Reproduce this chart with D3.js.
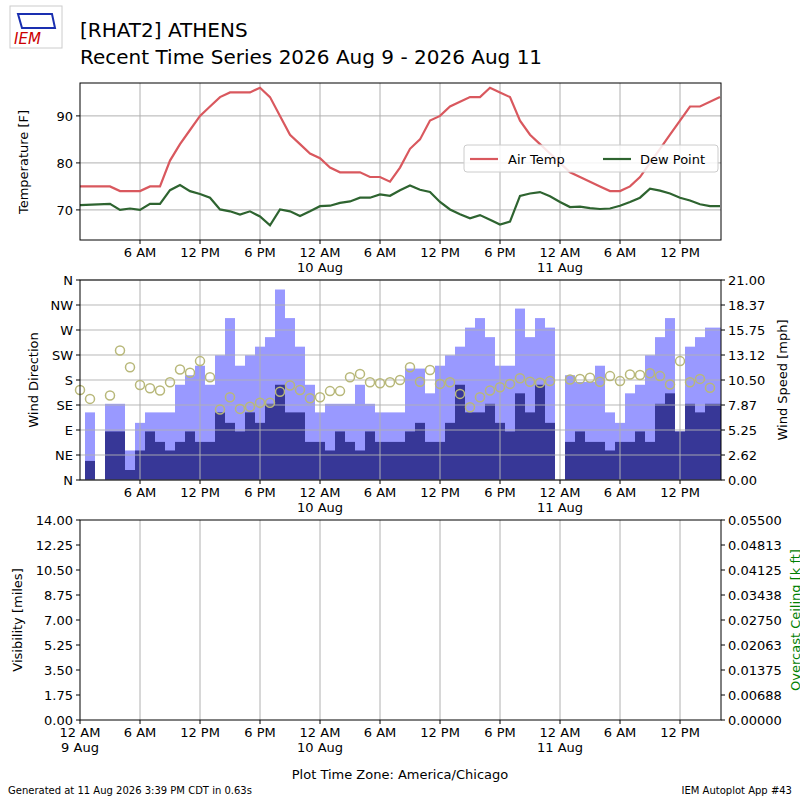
<!DOCTYPE html>
<html><head><meta charset="utf-8">
<script src="https://cdn.jsdelivr.net/npm/d3@7"></script>
<style>body{margin:0;background:#fff}text{font-family:"DejaVu Sans",sans-serif}</style>
</head><body><div id="chart"></div>
<script>
// hours since 12 AM 9 Aug
const tempHours = [0,3,4,5,6,7,8,9,10,11,12,13,14,15,16,17,18,19,20,21,22,23,24,25,26,28,29,30,31,32,33,34,35,36,37,38,39,40,41,42,43,44,45,46,47,48,49,50,51,52,53,54,55,56,57,58,59,60,61,62,64];
const airTemp = [75,75,74,74,74,75,75,80.5,84,87,90,92,94,95,95,95,96,94,90,86,84,82,81,79,78,78,77,77,76,79,83,85,89,90,92,93,94,94,96,95,94,89,86,84,82,80,78,77,76,75,74,74,75,77,80,83,86,89,92,92,94];
const dewHours = [0,3,4,5,6,7,8,9,10,11,12,13,14,15,16,17,18,19,20,21,22,23,24,25,26,27,28,29,30,31,32,33,34,35,36,37,38,39,40,41,42,43,44,45,46,47,48,49,50,51,52,53,54,55,56,57,58,59,60,61,62,63,64];
const dewPoint = [71,71.3,70,70.3,70,71.3,71.3,74.2,75.3,74,73.4,72.6,70.1,69.7,69,69.7,68.6,66.7,70.1,69.7,68.7,69.7,70.8,70.9,71.5,71.8,72.6,72.6,73.3,73,74.2,75.2,74.3,73.8,71.7,70.1,69.1,68.2,68.9,67.9,66.9,67.5,73,73.5,73.8,72.9,71.7,70.6,70.7,70.4,70.2,70.3,70.9,71.7,72.6,74.5,74.1,73.5,72.6,72,71.2,70.8,70.8];
// wind, hourly from hour 1
const windGust = [7.1,null,8,8,3.1,6,7.1,7.1,7.1,10,11,12,10,13.1,17,12,13.1,14,15,20,17,14,10,7.1,8,8,8,10,8,7.1,7.1,7.1,
  11.7,11.7,9.1,12,13.1,14,16,17,15,12,12,18,15,17,16,null,11,10.3,10.3,12,7.1,6,9.1,10,13.1,15,17,5.1,14,15,16,16];
const windSpeed = [2,null,5.1,5.1,1.05,3.1,5.1,4,3.1,4,5.1,4,4,7.1,6,5.1,7.1,6,8,10,7.1,7.1,4,4,3.1,5.1,4,3.1,5.1,4,4,4,
  5.1,6,4,4,6,10,7.1,7.1,8,6,5.1,9.1,7.1,10,6,null,4,5.1,4,4,3.1,4,4,5.1,4,8,9.1,5.1,8,7.1,8,8];
// direction, hourly from hour 0
const windDir = [162,146,null,152,233,203,171,165,161,176,199,193,214,185,127,149,128,132,139,139,159,170,162,147,149,160,160,185,191,176,174,176,180,
  203,177,198,173,176,155,131,149,161,167,173,183,177,175,178,null,181,182,184,177,187,178,190,189,192,187,172,214,176,182,166];
const dirLabels = ["N","NE","E","SE","S","SW","W","NW","N"];
const speedLabels = ["0.00","2.62","5.25","7.87","10.50","13.12","15.75","18.37","21.00"];
const visLabels = ["0.00","1.75","3.50","5.25","7.00","8.75","10.50","12.25","14.00"];
const ceilLabels = ["0.00000","0.00688","0.01375","0.02063","0.02750","0.03438","0.04125","0.04813","0.05500"];
const tickHours = [0,6,12,18,24,30,36,42,48,54,60];
const tickLabels = ["12 AM\n9 Aug","6 AM","12 PM","6 PM","12 AM\n10 Aug","6 AM","12 PM","6 PM","12 AM\n11 Aug","6 AM","12 PM"];

const W = 800, H = 800, L = 80, R = 721;
const svg = d3.select("#chart").append("svg").attr("width", W).attr("height", H);
const x = d3.scaleLinear().domain([0, 64.1]).range([L, R]);
const grid = "#b0b0b0";

// header
const logo = svg.append("g");
logo.append("rect").attr("x",10).attr("y",6).attr("width",52).attr("height",42).attr("fill","#fff").attr("stroke","#ccc");
logo.append("text").attr("x",14).attr("y",44).attr("font-size",15).attr("font-style","italic").attr("fill","#c00").text("IEM");
logo.append("path").attr("d","M18 14 L52 14 L55 28 L22 28 Z").attr("fill","none").attr("stroke","#1a2fb0").attr("stroke-width",2);
svg.append("text").attr("x",80).attr("y",37).attr("font-size",20).text("[RHAT2] ATHENS");
svg.append("text").attr("x",80).attr("y",64).attr("font-size",20).text("Recent Time Series 2026 Aug 9 - 2026 Aug 11");

function xAxis(g, y0, from) {
  tickHours.forEach((h, i) => {
    if (h < from) return;
    g.append("line").attr("x1", x(h)).attr("x2", x(h)).attr("y1", y0).attr("y2", y0 + 4).attr("stroke", "#000");
    const lines = tickLabels[i].split("\n");
    lines.forEach((s, j) => g.append("text").attr("x", x(h)).attr("y", y0 + 17 + j * 15)
      .attr("text-anchor", "middle").attr("font-size", 13).text(s));
  });
}
function vgrid(g, y1, y2) {
  tickHours.slice(1).forEach(h => g.append("line").attr("x1", x(h)).attr("x2", x(h))
    .attr("y1", y1).attr("y2", y2).attr("stroke", grid));
}
function frame(g, y1, y2) {
  g.append("rect").attr("x", L).attr("y", y1).attr("width", R - L).attr("height", y2 - y1)
    .attr("fill", "none").attr("stroke", "#000");
}

// ---- temperature panel
const p1 = svg.append("g");
const yT = d3.scaleLinear().domain([63.6, 97]).range([240, 83]);
vgrid(p1, 83, 240);
[70, 80, 90].forEach(v => {
  p1.append("line").attr("x1", L).attr("x2", R).attr("y1", yT(v)).attr("y2", yT(v)).attr("stroke", grid);
  p1.append("line").attr("x1", L - 4).attr("x2", L).attr("y1", yT(v)).attr("y2", yT(v)).attr("stroke", "#000");
  p1.append("text").attr("x", L - 7).attr("y", yT(v) + 5).attr("text-anchor", "end").attr("font-size", 13).text(v);
});
const line = d3.line().x(d => x(d[0])).y(d => yT(d[1]));
p1.append("path").attr("d", line(d3.zip(tempHours, airTemp))).attr("fill", "none").attr("stroke", "#d9585e").attr("stroke-width", 2.2);
p1.append("path").attr("d", line(d3.zip(dewHours, dewPoint))).attr("fill", "none").attr("stroke", "#2e6430").attr("stroke-width", 2.2);
frame(p1, 83, 240);
xAxis(p1, 240, 6);
p1.append("text").attr("transform", "translate(28,162) rotate(-90)").attr("text-anchor", "middle").attr("font-size", 13).text("Temperature [F]");
const lg = p1.append("g");
lg.append("rect").attr("x", 464).attr("y", 145).attr("width", 254).attr("height", 27).attr("rx", 3).attr("fill", "#fff").attr("fill-opacity", 0.85).attr("stroke", "#ccc");
lg.append("line").attr("x1", 470).attr("x2", 498).attr("y1", 159).attr("y2", 159).attr("stroke", "#d9585e").attr("stroke-width", 2.2);
lg.append("text").attr("x", 508).attr("y", 164).attr("font-size", 13).text("Air Temp");
lg.append("line").attr("x1", 603).attr("x2", 631).attr("y1", 159).attr("y2", 159).attr("stroke", "#2e6430").attr("stroke-width", 2.2);
lg.append("text").attr("x", 640).attr("y", 164).attr("font-size", 13).text("Dew Point");

// ---- wind panel
const p2 = svg.append("g");
const yD = d3.scaleLinear().domain([0, 360]).range([480, 280]);
const yS = d3.scaleLinear().domain([0, 21]).range([480, 280]);
const bw = x(1) - x(0);
svg.append("clipPath").attr("id", "c2").append("rect").attr("x", L).attr("y", 280).attr("width", R - L).attr("height", 200);
const bars = p2.append("g").attr("clip-path", "url(#c2)");
windGust.forEach((v, i) => {
  if (v == null) return;
  const h = i + 1;
  bars.append("rect").attr("x", x(h) - bw / 2).attr("width", bw).attr("y", yS(v)).attr("height", 480 - yS(v)).attr("fill", "#9999ff");
  bars.append("rect").attr("x", x(h) - bw / 2).attr("width", bw).attr("y", yS(windSpeed[i])).attr("height", 480 - yS(windSpeed[i])).attr("fill", "#373797");
});
vgrid(p2, 280, 480);
d3.range(0, 361, 45).forEach((v, i) => {
  p2.append("line").attr("x1", L).attr("x2", R).attr("y1", yD(v)).attr("y2", yD(v)).attr("stroke", grid).attr("stroke-opacity", 0.9);
  p2.append("line").attr("x1", L - 4).attr("x2", L).attr("y1", yD(v)).attr("y2", yD(v)).attr("stroke", "#000");
  p2.append("text").attr("x", L - 7).attr("y", yD(v) + 5).attr("text-anchor", "end").attr("font-size", 13).text(dirLabels[i]);
});
speedLabels.forEach((s, i) => {
  const v = 21 * i / 8;
  p2.append("line").attr("x1", R).attr("x2", R + 4).attr("y1", yS(v)).attr("y2", yS(v)).attr("stroke", "#000");
  p2.append("text").attr("x", R + 7).attr("y", yS(v) + 5).attr("font-size", 13).text(s);
});
windDir.forEach((v, h) => {
  if (v == null) return;
  p2.append("circle").attr("cx", x(h)).attr("cy", yD(v)).attr("r", 4.5).attr("fill", "none").attr("stroke", "#b8b87a").attr("stroke-width", 1.5);
});
frame(p2, 280, 480);
xAxis(p2, 480, 6);
p2.append("text").attr("transform", "translate(38,380) rotate(-90)").attr("text-anchor", "middle").attr("font-size", 13).text("Wind Direction");
p2.append("text").attr("transform", "translate(787,380) rotate(-90)").attr("text-anchor", "middle").attr("font-size", 13).text("Wind Speed [mph]");

// ---- visibility panel
const p3 = svg.append("g");
const yV = d3.scaleLinear().domain([0, 14]).range([720, 520]);
vgrid(p3, 520, 720);
visLabels.forEach((s, i) => {
  const v = 1.75 * i;
  p3.append("line").attr("x1", L - 4).attr("x2", L).attr("y1", yV(v)).attr("y2", yV(v)).attr("stroke", "#000");
  p3.append("text").attr("x", L - 7).attr("y", yV(v) + 5).attr("text-anchor", "end").attr("font-size", 13).text(s);
  p3.append("line").attr("x1", R).attr("x2", R + 4).attr("y1", yV(v)).attr("y2", yV(v)).attr("stroke", "#000");
  p3.append("text").attr("x", R + 7).attr("y", yV(v) + 5).attr("font-size", 13).text(ceilLabels[i]);
});
frame(p3, 520, 720);
xAxis(p3, 720, 0);
p3.append("text").attr("transform", "translate(22,620) rotate(-90)").attr("text-anchor", "middle").attr("font-size", 13).text("Visibility [miles]");
p3.append("text").attr("transform", "translate(800,620) rotate(-90)").attr("text-anchor", "middle").attr("font-size", 13).attr("fill", "green").text("Overcast Ceiling [k ft]");

svg.append("text").attr("x", 400).attr("y", 779).attr("text-anchor", "middle").attr("font-size", 13).text("Plot Time Zone: America/Chicago");
svg.append("text").attr("x", 8).attr("y", 794).attr("font-size", 10).text("Generated at 11 Aug 2026 3:39 PM CDT in 0.63s");
svg.append("text").attr("x", 792).attr("y", 794).attr("text-anchor", "end").attr("font-size", 10).text("IEM Autoplot App #43");
</script></body></html>
